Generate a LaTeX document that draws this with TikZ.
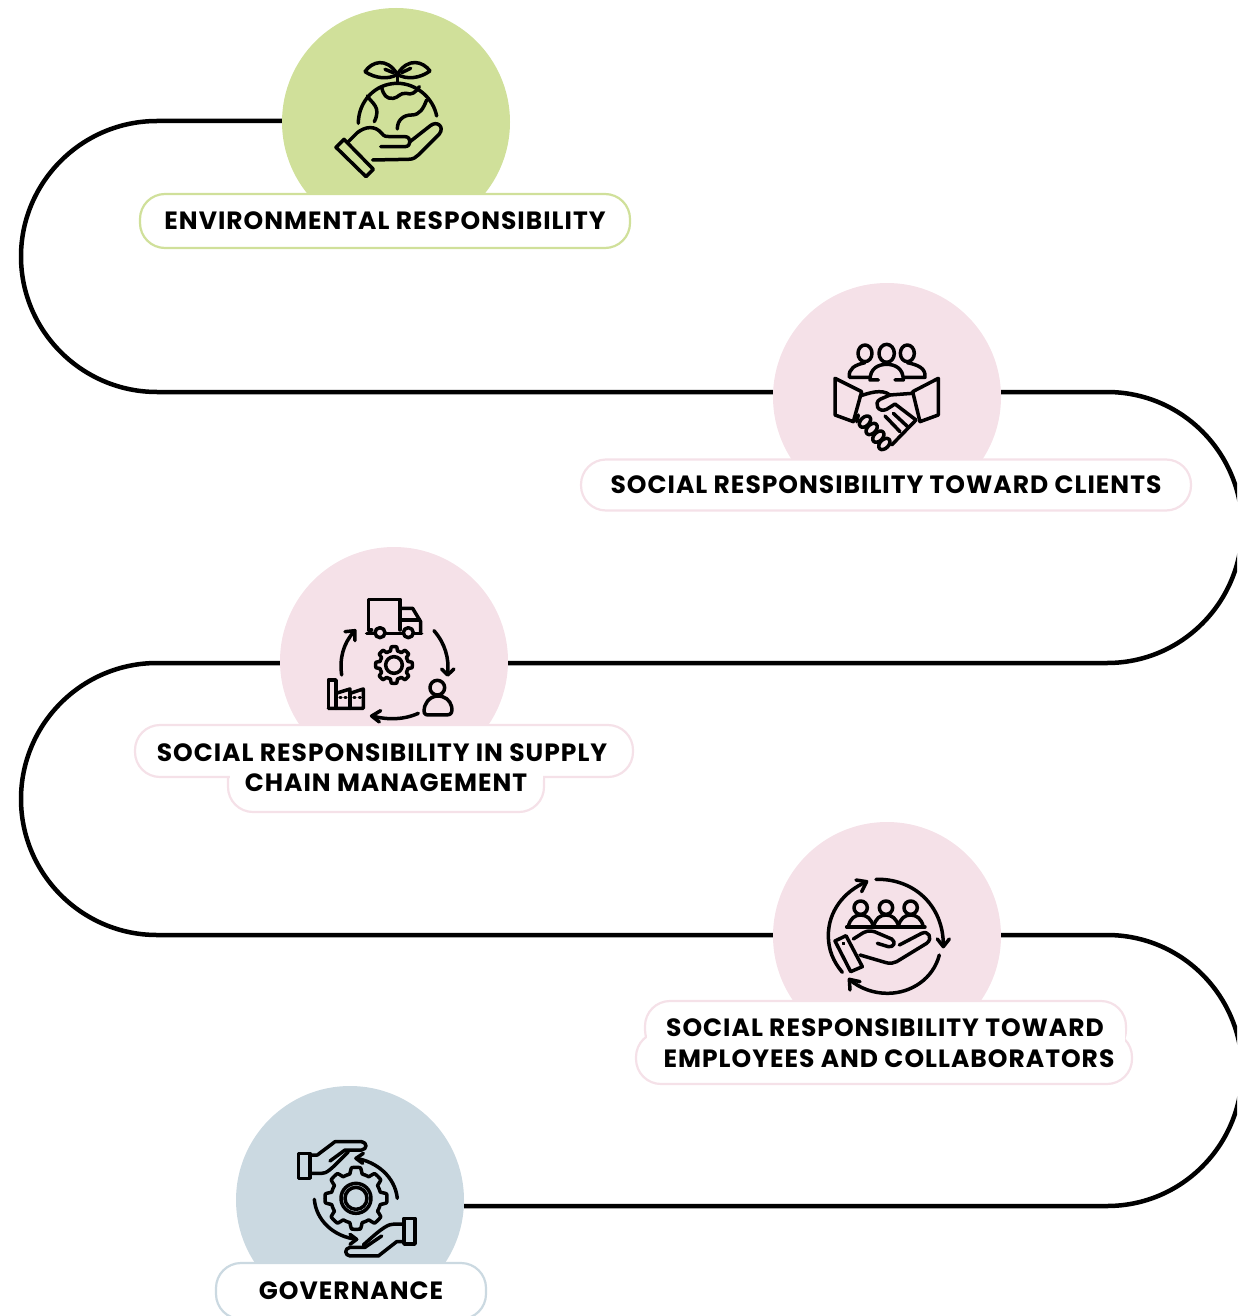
\documentclass[tikz,border=0pt]{standalone}
\usepackage{fontspec}
\setmainfont{Poppins}[LetterSpace=4]
\usepackage{xcolor}
\usetikzlibrary{positioning}
\definecolor{envgreen}{HTML}{D0E09A}
\definecolor{socpink}{HTML}{F5E1E8}
\definecolor{govblue}{HTML}{CBD9E1}
\tikzset{
  road/.style={line width=4.5bp},
  badge/.style={circle,inner sep=0pt,minimum size=228bp},
  pill/.style={draw=#1,line width=2.2bp,fill=white,rounded corners=25bp,inner sep=0pt},
  captext/.style={font=\bfseries\fontsize{25bp}{25bp}\selectfont,inner sep=0pt},
  iconpart/.style={shift={(#1)},x=0.3333bp,y=-0.3333bp,line width=3.5bp,line cap=round,line join=round},
}
% wavy or toothed wheel: cx, cy, radius, tooth height, teeth
\newcommand{\gearoutline}[5]{
  \draw plot[domain=0:360,samples=241,variable=\t]
    ({#1+(#3+#4*max(-1,min(1,2.5*cos(#5*\t))))*cos(\t)},{#2+(#3+#4*max(-1,min(1,2.5*cos(#5*\t))))*sin(\t)}) -- cycle;
}
\begin{document}
\begin{tikzpicture}[x=1bp,y=-1bp]
  \clip (0,0) rectangle (1237,1316);
  % Node: badges
  \node[badge,fill=envgreen] (envbadge) at (396,122) {};
  \node[badge,fill=socpink] (clibadge) at (887,397) {};
  \node[badge,fill=socpink] (supbadge) at (394,661) {};
  \node[badge,fill=socpink] (empbadge) at (887,936) {};
  \node[badge,fill=govblue] (govbadge) at (350,1200) {};
  \coordinate (bendA) at (157,121);
  \coordinate (bendB) at (157,392);
  \coordinate (bendC) at (1107,392);
  \coordinate (bendD) at (1107,663);
  \coordinate (bendE) at (157,663);
  \coordinate (bendF) at (157,935);
  \coordinate (bendG) at (1107,935);
  \coordinate (bendH) at (1107,1206);
  % Edge: envbadge -> clibadge
  \draw [road] (envbadge.west |- bendA) -- (bendA) .. controls (82,121) and (21,182) .. (21,256.5) .. controls (21,331) and (82,392) .. (bendB) -- (clibadge.west |- bendB);
  % Edge: clibadge -> supbadge
  \draw [road] (clibadge.east |- bendC) -- (bendC) .. controls (1182,392) and (1242,453) .. (1242,527.5) .. controls (1242,602) and (1182,663) .. (bendD) -- (supbadge.east |- bendD);
  % Edge: supbadge -> empbadge
  \draw [road] (supbadge.west |- bendE) -- (bendE) .. controls (82,663) and (21,724) .. (21,799) .. controls (21,874) and (82,935) .. (bendF) -- (empbadge.west |- bendF);
  % Edge: empbadge -> govbadge
  \draw [road] (empbadge.east |- bendG) -- (bendG) .. controls (1182,935) and (1242,996) .. (1242,1070.5) .. controls (1242,1145) and (1182,1206) .. (bendH) -- (govbadge.east |- bendH);
  % Icon: globe on a hand
  \begin{scope}[iconpart={280,30}]
    \draw (255,125) .. controls (275,95) and (320,80) .. (352,133) .. controls (325,150) and (285,145) .. (255,125);
    \draw (450,123) .. controls (430,95) and (385,80) .. (352,133) .. controls (380,150) and (420,145) .. (450,123);
    \draw (352,155) -- (352,133);
    \draw (315,118) -- (340,128);
    \draw (392,115) -- (365,128);
    \draw (235,280) .. controls (235,215) and (285,160) .. (352,160) .. controls (410,160) and (460,205) .. (470,258);
    \draw (305,172) .. controls (310,195) and (320,208) .. (340,205) .. controls (355,203) and (360,188) .. (378,190) .. controls (395,195) and (405,190) .. (418,170);
    \draw (262,198) .. controls (275,220) and (305,230) .. (283,275);
    \draw (440,210) .. controls (430,235) and (420,255) .. (395,255) .. controls (370,255) and (352,270) .. (352,297);
    \draw (192,328) -- (168,352) -- (258,440) -- (280,418) -- cycle;
    \draw (205,335) -- (232,308) .. controls (255,290) and (285,285) .. (305,310) .. controls (312,320) and (320,320) .. (330,320) -- (375,320) .. controls (395,320) and (395,350) .. (375,350) -- (302,350);
    \draw (278,390) -- (385,388) .. controls (400,388) and (408,382) .. (415,375) -- (478,312) .. controls (495,290) and (470,270) .. (450,288) -- (390,335);
  \end{scope}
  % Icon: people above a handshake
  \begin{scope}[iconpart={790,330}]
    \draw (225,70) ellipse (21 and 25);
    \draw (290,70) ellipse (23 and 27);
    \draw (352,70) ellipse (21 and 25);
    \draw (240,142) -- (178,142) .. controls (175,115) and (195,105) .. (225,98);
    \draw (345,142) -- (405,142) .. controls (408,115) and (385,105) .. (352,98);
    \draw (265,150) -- (240,150) .. controls (240,115) and (265,103) .. (290,103) .. controls (315,103) and (340,115) .. (340,150) -- (315,150);
    \draw (135,145) -- (215,185) -- (190,275) -- (135,255) -- cycle;
    \draw (445,145) -- (368,185) -- (390,275) -- (445,255) -- cycle;
    \draw (210,198) .. controls (235,190) and (275,175) .. (300,195);
    \draw (300,195) -- (270,208) .. controls (250,220) and (265,250) .. (290,238) -- (315,222) -- (378,270);
    \draw (300,195) -- (368,190);
    \draw (378,270) -- (305,345);
    \draw (285,258) -- (330,305);
    \draw (310,250) -- (355,292);
    \draw (205,255) -- (200,275);
    \foreach \cx/\cy in {225/275,245/297,265/320,283/342}
      \draw[rotate around={45:(\cx,\cy)}] (\cx,\cy) ellipse (20 and 13);
  \end{scope}
  % Icon: truck, person and factory in a ring
  \begin{scope}[iconpart={300,590}]
    \draw (215,120) -- (205,120) -- (205,28) -- (300,28) -- (300,120);
    \draw (300,55) -- (338,55) -- (362,95) -- (362,125);
    \draw (305,90) -- (358,90);
    \draw (200,130) -- (222,130);
    \draw (258,130) -- (308,130);
    \draw (342,130) -- (365,130);
    \draw (240,128) circle (15);
    \draw (325,128) circle (15);
    \draw (402,122) .. controls (435,160) and (448,205) .. (443,250);
    \draw (425,237) -- (443,255) -- (462,237);
    \draw (355,370) .. controls (310,390) and (265,390) .. (215,378);
    \draw (242,362) -- (215,378) -- (238,396);
    \draw (125,255) .. controls (118,205) and (130,160) .. (162,125);
    \draw (135,125) -- (165,122) -- (165,152);
    \gearoutline{282}{225}{49}{6}{8}
    \draw (282,225) circle (25);
    \draw (412,293) circle (22);
    \draw (412,318) .. controls (385,320) and (372,345) .. (372,362) .. controls (372,375) and (380,375) .. (390,375) -- (440,375) .. controls (455,375) and (458,365) .. (455,350) .. controls (450,330) and (435,318) .. (412,318);
    \draw (85,355) -- (85,270) -- (108,270) -- (108,355);
    \draw (85,355) -- (190,355) -- (190,297) -- (150,310) -- (150,297) -- (108,310);
    \draw (150,310) -- (150,355);
    \foreach \cx in {120,135,162,178}
      \draw (\cx,323) -- (\cx+3,323);
  \end{scope}
  % Icon: people above a hand in a ring
  \begin{scope}[iconpart={800,865}]
    \draw (228,43) .. controls (340,40) and (430,120) .. (430,240);
    \draw (412,222) -- (430,245) -- (448,222);
    \draw (418,270) .. controls (400,340) and (335,385) .. (262,385) .. controls (220,385) and (180,370) .. (150,345);
    \draw (150,375) -- (148,343) -- (180,350);
    \draw (127,322) .. controls (100,290) and (85,255) .. (85,212) .. controls (85,140) and (130,80) .. (200,50);
    \draw (168,45) -- (200,50) -- (185,80);
    \foreach \cx in {182,258,332} {
      \draw (\cx,128) circle (20);
      \draw (\cx-37,185) .. controls (\cx-32,160) and (\cx-17,150) .. (\cx,150) .. controls (\cx+17,150) and (\cx+32,160) .. (\cx+38,185);
    }
    \draw (140,186) -- (375,186);
    \draw (105,228) -- (138,212) -- (187,305) -- (152,320) -- cycle;
    \draw (130,235) -- (131,236);
    \draw (160,222) -- (190,203) .. controls (205,195) and (220,197) .. (235,205) -- (275,222) .. controls (290,232) and (280,248) .. (265,245) -- (232,235);
    \draw (180,270) -- (255,292) .. controls (270,297) and (280,295) .. (290,290) -- (380,235) .. controls (400,220) and (385,195) .. (365,205) -- (298,240);
  \end{scope}
  % Icon: two hands around a gear
  \begin{scope}[iconpart={280,1130}]
    \draw (55,70) rectangle (90,145);
    \draw (92,75) -- (112,75) -- (165,35) -- (245,35) .. controls (262,37) and (262,58) .. (245,60) -- (195,60) -- (150,93);
    \draw (92,130) -- (125,130) .. controls (140,130) and (150,122) .. (205,65);
    \draw (372,265) rectangle (405,342);
    \draw (370,282) -- (345,282) .. controls (325,282) and (310,290) .. (250,345);
    \draw (372,335) -- (350,335) -- (295,378) -- (210,378) .. controls (193,376) and (193,355) .. (210,352) -- (255,352) -- (305,318);
    \gearoutline{228}{205}{84}{9}{8}
    \draw (228,205) circle (45);
    \draw (228,205) circle (33);
    \draw (352,205) .. controls (345,140) and (290,95) .. (228,85);
    \draw (250,70) -- (228,85) -- (248,100);
    \draw (103,208) .. controls (108,270) and (160,320) .. (230,328);
    \draw (210,313) -- (230,328) -- (210,343);
  \end{scope}
  % Node: envlabel
  \node[pill=envgreen,minimum width=490bp,minimum height=54bp,captext] (envlabel) at (385,221) {ENVIRONMENTAL RESPONSIBILITY};
  % Node: clilabel
  \node[pill=socpink,minimum width=610bp,minimum height=51bp,captext] (clilabel) at (886,485) {SOCIAL RESPONSIBILITY TOWARD CLIENTS};
  % Node: suplabel
  \node[pill=socpink,minimum width=316bp,minimum height=62bp] (suplower) at (386,781) {};
  \node[pill=socpink,minimum width=498bp,minimum height=52bp] (supupper) at (384,751) {};
  \fill[white] (229.5,770) rectangle (542.5,780);
  \node[captext] (suptexta) at (382,753) {SOCIAL RESPONSIBILITY IN SUPPLY};
  \node[captext] (suptextb) at (386,783) {CHAIN MANAGEMENT};
  % Node: emplabel
  \node[pill=socpink,minimum width=481bp,minimum height=54bp] (empupper) at (885.5,1028) {};
  \node[pill=socpink,minimum width=496bp,minimum height=52bp] (emplower) at (884,1058) {};
  \fill[white] (646.5,1028) rectangle (1124.5,1056);
  \node[captext] (emptexta) at (885,1028) {SOCIAL RESPONSIBILITY TOWARD};
  \node[captext] (emptextb) at (889,1059) {EMPLOYEES AND COLLABORATORS};
  % Node: govlabel
  \node[pill=govblue,minimum width=270bp,minimum height=56bp,captext] (govlabel) at (351,1291) {GOVERNANCE};
\end{tikzpicture}
\end{document}
